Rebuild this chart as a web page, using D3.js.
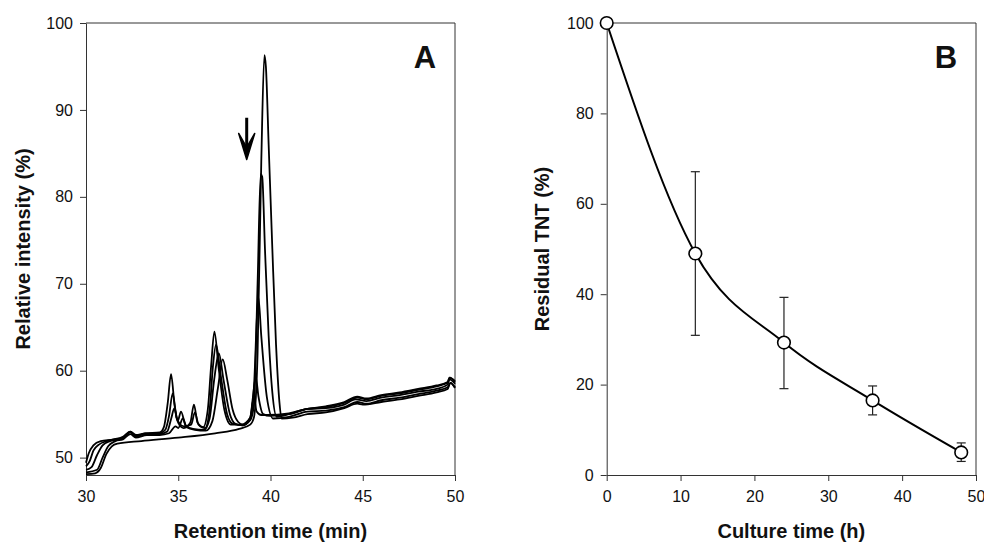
<!DOCTYPE html>
<html>
<head>
<meta charset="utf-8">
<script src="https://cdnjs.cloudflare.com/ajax/libs/d3/7.8.5/d3.min.js"></script>
<style>
  body { margin: 0; background: #fff; }
  svg { font-family: "Liberation Sans", Arial, sans-serif; }
  .tick text { font-size: 16px; fill: #111; }
  .axisTitle { font-size: 20px; font-weight: bold; fill: #111; }
  .panelLabel { font-size: 31px; font-weight: bold; fill: #111; }
</style>
</head>
<body>
<div id="chart"></div>
<script>
// panel A: chromatograms, one trace per culture time ([retention min, intensity %])
var trace0h = [[30.0,48.1],[30.5,48.2],[30.8,48.8],[31.1,50.4],[31.4,51.3],[31.7,51.6],[33,51.9],[35,52.3],[37,52.8],[38.3,53.3],[38.9,53.8],[39.1,54.6],[39.3,62],[39.5,84],[39.67,96.3],[39.75,95],[39.9,86],[40.1,74],[40.3,63],[40.5,56],[40.6,54.5],[41.2,54.6],[42,55.0],[43,55.2],[44,55.7],[44.7,56.2],[45,56.1],[46,56.4],[47,56.7],[48,57.1],[49,57.5],[49.6,57.9],[49.75,58.6],[50,58.0]];
var trace12h = [[30.0,48.3],[30.6,48.6],[30.9,50.0],[31.2,51.3],[31.6,51.9],[32.0,52.1],[32.4,52.7],[32.7,52.3],[33.3,52.6],[34.0,52.6],[34.5,52.8],[34.85,53.6],[35.0,53.4],[35.25,54.5],[35.45,53.5],[35.9,53.2],[36.5,53.1],[36.85,54.2],[37.15,58],[37.41,61.3],[37.65,59],[37.95,55.5],[38.25,54.1],[38.5,53.8],[38.9,54.3],[39.1,56],[39.3,70],[39.47,82.6],[39.55,82.3],[39.7,74],[39.9,64],[40.1,57.5],[40.33,54.7],[41,55.0],[42,55.6],[43,55.7],[44,56.1],[44.6,56.7],[45.2,56.5],[46,56.9],[47,57.2],[48,57.6],[49,57.9],[49.6,58.4],[49.7,59.0],[50,58.5]];
var trace24h = [[30.0,48.6],[30.3,48.9],[30.6,50.3],[30.9,51.4],[31.3,51.9],[32.0,52.2],[32.4,52.9],[32.7,52.4],[33.2,52.8],[34.0,52.7],[34.4,53.0],[34.62,54.5],[34.79,55.7],[34.97,54.2],[35.15,55.3],[35.4,53.7],[35.8,53.3],[36.4,53.2],[36.7,54.5],[36.95,59],[37.2,62],[37.45,59],[37.8,55],[38.1,53.9],[38.5,53.7],[38.9,54.4],[39.1,58],[39.34,68.5],[39.5,64],[39.8,57],[40.15,54.5],[41,54.7],[42,55.3],[43,55.4],[44,55.8],[44.7,56.4],[45.2,56.2],[46,56.6],[47,56.9],[48,57.3],[49,57.7],[49.6,58.1],[49.75,58.6],[50,58.1]];
var trace36h = [[30.0,49.0],[30.2,49.6],[30.4,50.8],[30.7,51.5],[31.1,51.9],[32.0,52.3],[32.4,53.0],[32.7,52.5],[33.2,52.7],[34.0,52.8],[34.3,53.2],[34.5,54.8],[34.70,57.4],[34.92,54.5],[35.3,53.6],[35.7,53.8],[35.9,55.2],[36.1,53.8],[36.45,53.4],[36.7,55.5],[36.88,60.5],[37.05,63],[37.3,59.5],[37.65,55],[37.95,53.9],[38.5,53.7],[38.9,54.6],[39.05,57],[39.2,59.3],[39.35,57],[39.6,55],[39.97,54.8],[41,55.0],[42,55.6],[43,55.8],[44,56.3],[44.7,56.9],[45.2,56.7],[46,57.1],[47,57.4],[48,57.8],[49,58.2],[49.6,58.6],[49.72,59.2],[50,58.7]];
var trace48h = [[30.0,49.4],[30.15,50.5],[30.4,51.4],[30.8,51.9],[31.5,52.1],[32.0,52.4],[32.4,53.0],[32.7,52.6],[33.2,52.8],[34.0,52.9],[34.22,53.5],[34.43,56.3],[34.61,59.6],[34.8,56],[35.0,54.0],[35.3,53.4],[35.65,54.0],[35.85,56.1],[36.05,54.0],[36.35,53.5],[36.6,55.5],[36.78,60.5],[36.96,64.5],[37.18,60.5],[37.5,55.5],[37.85,53.8],[38.4,53.8],[38.9,54.6],[39.1,56.9],[39.25,55.3],[39.5,54.9],[39.8,54.9],[41,55.1],[42,55.6],[43,55.9],[44,56.4],[44.7,57.0],[45.2,56.8],[46,57.2],[47,57.5],[48,57.9],[49,58.3],[49.6,58.7],[49.7,59.2],[50,58.8]];
var traces = [trace0h, trace12h, trace24h, trace36h, trace48h];

var retentionTicks = [30, 35, 40, 45, 50];
var intensityTicks = [50, 60, 70, 80, 90, 100];
// arrow marking the TNT peak: [retention, top, tip]
var arrowMark = [38.71, 89.1, 84.3];

// panel B: residual TNT over culture time
var cultureTime = [0, 12, 24, 36, 48];
var residualTNT = [100, 49.0, 29.3, 16.5, 5.0];
var residualLow = [100, 30.9, 19.1, 13.3, 3.0];
var residualHigh = [100, 67.1, 39.3, 19.7, 7.1];
var cultureTicks = [0, 10, 20, 30, 40, 50];
var residualTicks = [0, 20, 40, 60, 80, 100];

var svgWidth = 984;
var svgHeight = 543;

var svg = d3.select("#chart")
  .append("svg")
  .attr("width", svgWidth)
  .attr("height", svgHeight);

var axisColor = "#333";

// draws the frame, axes and titles of one panel
function drawFrame(g, x, y, xTicks, yTicks, xTitle, yTitle, yTitleX, label) {
  var x0 = x.range()[0], x1 = x.range()[1];
  var y0 = y.range()[0], y1 = y.range()[1];

  g.append("g")
    .attr("transform", `translate(0, ${y0})`)
    .call(d3.axisBottom(x).tickValues(xTicks).tickSize(6).tickPadding(10).tickSizeOuter(0));
  g.append("g")
    .attr("transform", `translate(${x0}, 0)`)
    .call(d3.axisLeft(y).tickValues(yTicks).tickSize(6).tickPadding(7).tickSizeOuter(0));
  g.selectAll(".domain, .tick line").attr("stroke", axisColor);

  // top and right border
  g.append("path")
    .attr("d", `M${x0},${y1}H${x1}V${y0}`)
    .attr("fill", "none")
    .attr("stroke", axisColor);

  g.append("text")
    .attr("class", "axisTitle")
    .attr("text-anchor", "middle")
    .attr("x", (x0 + x1) / 2)
    .attr("y", 538)
    .text(xTitle);

  g.append("text")
    .attr("class", "axisTitle")
    .attr("text-anchor", "middle")
    .attr("transform", `translate(${yTitleX}, ${(y0 + y1) / 2}) rotate(-90)`)
    .attr("dy", "0.35em")
    .text(yTitle);

  g.append("text")
    .attr("class", "panelLabel")
    .attr("text-anchor", "middle")
    .attr("x", x1 - 30)
    .attr("y", 68)
    .text(label);
}

// ---- panel A ----
var xA = d3.scaleLinear().domain([30, 50]).range([86, 455]);
var yA = d3.scaleLinear().domain([48, 100]).range([475, 23]);
var gA = svg.append("g");
drawFrame(gA, xA, yA, retentionTicks, intensityTicks, "Retention time (min)", "Relative intensity (%)", 23, "A");

var traceLine = d3.line()
  .x(d => xA(d[0]))
  .y(d => yA(d[1]))
  .curve(d3.curveMonotoneX);

gA.selectAll(".trace")
  .data(traces)
  .enter()
  .append("path")
  .attr("class", "trace")
  .attr("d", traceLine)
  .attr("fill", "none")
  .attr("stroke", "#000")
  .attr("stroke-width", 1.8)
  .attr("stroke-linejoin", "round");

// arrow
var ax = xA(arrowMark[0]), aTop = yA(arrowMark[1]), aTip = yA(arrowMark[2]);
gA.append("line")
  .attr("x1", ax).attr("x2", ax)
  .attr("y1", aTop).attr("y2", aTip - 4)
  .attr("stroke", "#000")
  .attr("stroke-width", 3);
gA.append("path")
  .attr("d", `M${ax - 8},${aTip - 26}L${ax},${aTip}L${ax + 8},${aTip - 26}L${ax},${aTip - 12}Z`)
  .attr("fill", "#000")
  .attr("stroke", "#000")
  .attr("stroke-width", 1.5)
  .attr("stroke-linejoin", "round");

// ---- panel B ----
var xB = d3.scaleLinear().domain([0, 50]).range([606.7, 976]);
var yB = d3.scaleLinear().domain([0, 100]).range([475, 23]);
var gB = svg.append("g");
drawFrame(gB, xB, yB, cultureTicks, residualTicks, "Culture time (h)", "Residual TNT (%)", 542, "B");

var pointsB = cultureTime.map((t, i) => ({
  t: t, v: residualTNT[i], lo: residualLow[i], hi: residualHigh[i]
}));

gB.append("path")
  .datum(pointsB)
  .attr("d", d3.line().x(d => xB(d.t)).y(d => yB(d.v)).curve(d3.curveMonotoneX))
  .attr("fill", "none")
  .attr("stroke", "#000")
  .attr("stroke-width", 2);

var errGroup = gB.selectAll(".err")
  .data(pointsB.filter(d => d.hi > d.lo))
  .enter()
  .append("g")
  .attr("class", "err")
  .attr("stroke", "#222")
  .attr("stroke-width", 1.2);
errGroup.append("line")
  .attr("x1", d => xB(d.t)).attr("x2", d => xB(d.t))
  .attr("y1", d => yB(d.lo)).attr("y2", d => yB(d.hi));
errGroup.append("line")
  .attr("x1", d => xB(d.t) - 4.5).attr("x2", d => xB(d.t) + 4.5)
  .attr("y1", d => yB(d.hi)).attr("y2", d => yB(d.hi));
errGroup.append("line")
  .attr("x1", d => xB(d.t) - 4.5).attr("x2", d => xB(d.t) + 4.5)
  .attr("y1", d => yB(d.lo)).attr("y2", d => yB(d.lo));

gB.selectAll(".pt")
  .data(pointsB)
  .enter()
  .append("circle")
  .attr("class", "pt")
  .attr("cx", d => xB(d.t))
  .attr("cy", d => yB(d.v))
  .attr("r", 6.3)
  .attr("fill", "#fff")
  .attr("stroke", "#000")
  .attr("stroke-width", 1.6);
</script>
</body>
</html>
